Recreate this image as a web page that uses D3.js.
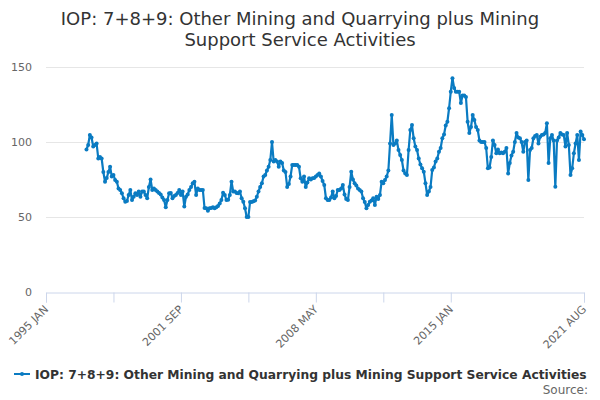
<!DOCTYPE html>
<html>
<head>
<meta charset="utf-8">
<script src="https://cdn.jsdelivr.net/npm/d3@7"></script>
<style>
  body { margin: 0; background: #fff; }
  svg { font-family: "DejaVu Sans", Verdana, sans-serif; }
</style>
</head>
<body>
<div id="chart"></div>
<script>
// monthly values, 1997 JAN .. 2021 AUG
var startYear = 1997;
var values = [
  95, 98, 104.7, 103, 97, 98, 99, 89, 90, 89, 80, 73.5,          // 1997
  76, 80, 83.5, 77, 78, 74.7, 73.5, 69, 68, 65.8, 62.5, 60.2,    // 1998
  60.7, 64.7, 68, 61.3, 63.5, 65.8, 64.7, 67, 63.5, 67, 67, 64.7, // 1999
  62.5, 70, 75, 68, 69, 68, 67, 66, 65, 63, 61.3, 56.5,          // 2000
  61.3, 65.8, 66, 62.5, 64, 64.7, 66, 68, 64.7, 67, 57, 63.5,    // 2001
  65, 68, 70, 72.5, 73.5, 64.7, 69, 68, 68, 68, 56, 55.8,        // 2002
  54.2, 55.8, 56, 56.5, 55.8, 56.5, 57.3, 59, 61.3, 66.2, 64.7, 61.3, // 2003
  61.5, 64.7, 73.5, 67, 67, 66, 65.8, 67, 62.5, 60.2, 55.8, 50,  // 2004
  50, 60, 60, 60.5, 61, 63.5, 67, 70, 72.5, 77, 78, 81,          // 2005
  83.5, 88, 100, 87, 88, 87, 83.5, 87, 86, 81, 80, 70,           // 2006
  72, 77, 84.7, 84.7, 84.7, 84.7, 83.5, 75.8, 73.5, 77, 70, 73,  // 2007
  75.8, 75, 75.8, 76, 77, 78, 79, 77, 74, 71.3, 62.5, 61.3,      // 2008
  61.3, 63, 67, 62.5, 64, 68, 68, 69, 71.3, 65, 62, 61.3,        // 2009
  70, 80.2, 75, 72.5, 71, 69, 68, 67, 62.5, 60, 55.8, 58,        // 2010
  60.2, 61, 62.5, 58, 63.5, 62, 64.7, 73.5, 72.5, 74.7, 77, 81,  // 2011
  99, 118, 98, 99, 101, 94.7, 91.3, 88, 81, 79, 78, 94.7,        // 2012
  108, 111.3, 102.5, 97, 94.7, 89, 85, 82.5, 80.2, 72.5, 64.7, 67, // 2013
  70, 81.3, 83, 87, 89, 93.5, 96, 102.5, 105, 111, 113.5, 122.5, // 2014
  133.5, 142.5, 136, 133.5, 133.5, 133.5, 126, 131, 131, 130, 113.5, 106, // 2015
  110, 118, 114.7, 110, 108, 101, 100, 100, 100, 96, 82.5, 83,   // 2016
  90, 101, 98, 92.5, 95, 92.5, 93, 92.5, 93.5, 96, 79, 86,       // 2017
  91, 93.5, 100, 106, 103, 102.5, 100, 93.5, 100, 101, 74.7, 94.7, // 2018
  96, 102.5, 104, 104.7, 99, 103.5, 104.7, 105, 106, 112.5, 86, 102.5, // 2019
  104.7, 101, 70.2, 101, 103, 106, 105, 104.7, 97, 106, 98, 78,  // 2020
  82.5, 92.5, 99, 104.7, 88, 107, 104.7, 101.8                   // 2021
];
var months = ["JAN","FEB","MAR","APR","MAY","JUN","JUL","AUG","SEP","OCT","NOV","DEC"];
var axisStart = "1995 JAN", axisEnd = "2021 AUG";
var tickLabels = ["1995 JAN", "2001 SEP", "2008 MAY", "2015 JAN", "2021 AUG"];
var yTicks = [0, 50, 100, 150];
var seriesName = "IOP: 7+8+9: Other Mining and Quarrying plus Mining Support Service Activities";
var titleLines = ["IOP: 7+8+9: Other Mining and Quarrying plus Mining", "Support Service Activities"];

function monthIndex(label) {
  var p = label.split(" ");
  return (+p[0]) * 12 + months.indexOf(p[1]);
}

var data = values.map(function(v, i) {
  return { m: startYear * 12 + i, value: v };
});

var W = 600, H = 400;
var margin = {top: 67, right: 16, bottom: 108, left: 46};
var width = W - margin.left - margin.right,
    height = H - margin.top - margin.bottom;

var svg = d3.select("#chart").append("svg")
  .attr("width", W).attr("height", H);

// title
svg.append("text")
  .attr("x", W / 2).attr("y", 25)
  .attr("text-anchor", "middle")
  .style("font-size", "18px").style("fill", "#333333")
  .selectAll("tspan").data(titleLines).enter().append("tspan")
  .attr("x", W / 2).attr("dy", function(d, i) { return i ? 21 : 0; })
  .text(function(d) { return d; });

var g = svg.append("g")
  .attr("transform", "translate(" + margin.left + "," + margin.top + ")");

var x = d3.scaleLinear()
  .domain([monthIndex(axisStart), monthIndex(axisEnd)])
  .range([0, width]);
var y = d3.scaleLinear().domain([0, 150]).range([height, 0]);

// grid + y labels
g.selectAll(".grid").data(yTicks.slice(1)).enter().append("line")
  .attr("x1", 0).attr("x2", width)
  .attr("y1", function(d) { return y(d) + 0.5; })
  .attr("y2", function(d) { return y(d) + 0.5; })
  .attr("stroke", "#e6e6e6");

g.selectAll(".ylab").data(yTicks).enter().append("text")
  .attr("x", -14).attr("y", function(d) { return y(d) + 4; })
  .attr("text-anchor", "end")
  .style("font-size", "11px").style("fill", "#666666")
  .text(function(d) { return d; });

// x axis
var tickVals = d3.range(monthIndex(axisStart), monthIndex(axisEnd) + 1, 40);
tickVals[tickVals.length - 1] = monthIndex(axisEnd);
var xAxis = g.append("g")
  .attr("transform", "translate(0," + (height + 0.5) + ")")
  .call(d3.axisBottom(x).tickValues(tickVals).tickSize(10).tickFormat(""));
xAxis.select(".domain").attr("stroke", "#ccd6eb");
xAxis.selectAll(".tick line").attr("stroke", "#ccd6eb");

g.selectAll(".xlab").data(tickLabels).enter().append("text")
  .attr("transform", function(d) {
    return "translate(" + (x(monthIndex(d)) + 3) + "," + (height + 18) + ") rotate(-45)";
  })
  .attr("text-anchor", "end")
  .style("font-size", "11px").style("fill", "#666666")
  .text(function(d) { return d; });

// series
var color = "#0a7bc2";
g.append("path").datum(data)
  .attr("fill", "none").attr("stroke", color)
  .attr("stroke-width", 2.2).attr("stroke-linejoin", "round")
  .attr("d", d3.line()
    .x(function(d) { return x(d.m); })
    .y(function(d) { return y(d.value); }));

g.selectAll(".dot").data(data).enter().append("circle")
  .attr("cx", function(d) { return x(d.m); })
  .attr("cy", function(d) { return y(d.value); })
  .attr("r", 2).attr("fill", color);

// legend
var leg = svg.append("g").attr("transform", "translate(14,374)");
leg.append("line").attr("x1", 0).attr("x2", 16).attr("y1", 0).attr("y2", 0)
  .attr("stroke", color).attr("stroke-width", 2);
leg.append("circle").attr("cx", 8).attr("cy", 0).attr("r", 2).attr("fill", color);
var legText = leg.append("text").attr("x", 21).attr("y", 5)
  .style("font-size", "13px").style("font-weight", "bold").style("fill", "#333333")
  .text(seriesName);
// squeeze to the width the reference uses
var maxLen = 552;
var len = legText.node().getComputedTextLength();
if (len > maxLen) legText.style("font-size", (13 * maxLen / len).toFixed(2) + "px");

svg.append("text")
  .attr("x", 588).attr("y", 394)
  .attr("text-anchor", "end")
  .style("font-size", "12px").style("fill", "#666666")
  .text("Source:");
</script>
</body>
</html>
